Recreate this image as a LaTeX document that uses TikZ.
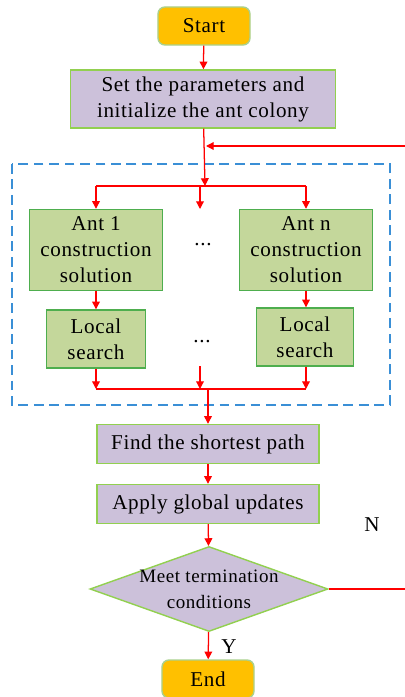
\documentclass[tikz,border=0pt]{standalone}
\usepackage{fontspec}
\setmainfont{Liberation Serif}[LetterSpace=3]
\usetikzlibrary{shapes,arrows.meta,calc}

\definecolor{startorange}{HTML}{FFC000}
\definecolor{lightgreen}{HTML}{A9D18E}
\definecolor{limegreen}{HTML}{92D050}
\definecolor{lavender}{HTML}{CCC1DA}
\definecolor{antgreen}{HTML}{C4D79B}
\definecolor{antborder}{HTML}{4EAE4E}
\definecolor{dashblue}{HTML}{3A8FD6}

\begin{document}
\begin{tikzpicture}[x=0.025cm,y=-0.025cm,
	every node/.style={font=\fontsize{15}{18.5}\selectfont,align=center,inner sep=0pt},
	term/.style={draw=lightgreen,fill=startorange,line width=1pt,rounded corners=5pt,minimum width=2.3cm,minimum height=0.95cm},
	procbox/.style={draw=limegreen,fill=lavender,line width=1pt,minimum height=0.975cm},
	antbox/.style={draw=antborder,fill=antgreen,line width=1pt},
	decide/.style={diamond,draw=limegreen,fill=lavender,line width=1pt,font=\fontsize{13.5}{18.5}\selectfont,inner xsep=-20pt,inner ysep=-10pt,aspect=2.8,minimum width=5.95cm,minimum height=2.125cm},
	flow/.style={red,line width=0.9pt,-{Triangle[length=5.5pt,width=5.5pt]}},
	plain/.style={red,line width=0.9pt}]

	\useasboundingbox (0,0) rectangle (405,697);

	\node [term] (start) at (204,26) {Start};
	\node [procbox,minimum width=6.625cm,minimum height=1.45cm] (init) at (203,99) {Set the parameters and\\initialize the ant colony};

	% ants
	\draw [dashblue,line width=1.2pt,dash pattern=on 7pt off 4pt] (12,164) rectangle (390,405);

	\node [antbox,minimum width=3.325cm,minimum height=2.025cm] (ant1) at (96,250) {Ant 1\\construction\\solution};
	\node [antbox,minimum width=3.325cm,minimum height=2.025cm] (antn) at (306,250) {Ant n\\construction\\solution};
	\node (dotsa) at (203,245) {...};

	\node [antbox,minimum width=2.475cm,minimum height=1.45cm] (local1) at (96,339) {Local\\search};
	\node [antbox,minimum width=2.425cm,minimum height=1.45cm] (localn) at (305,337) {Local\\search};
	\node (dotsb) at (202,342) {...};

	\node [procbox,minimum width=5.55cm] (find) at (208,444) {Find the shortest path};
	\node [procbox,minimum width=5.55cm] (apply) at (208,504) {Apply global updates};
	\node [decide] (meet) at (209,589) {Meet termination\\conditions};
	\node [term] (end) at (208,679) {End};

	\node (no) at (372,525) {N};
	\node (yes) at (229,647) {Y};

	\coordinate (split) at (205,186);
	\coordinate (splitl) at (96,186);
	\coordinate (splitm) at (200,186);
	\coordinate (splitr) at (306,186);
	\coordinate (midtop) at (200,209);
	\coordinate (midlow) at (200,366);
	\coordinate (joinl) at (96,389);
	\coordinate (joinm) at (200,389);
	\coordinate (joinr) at (306,389);
	\coordinate (join) at (208,389);
	\coordinate (loopin) at (206,146);
	\coordinate (loopup) at (412,146);
	\coordinate (loopdn) at (412,589);

	\draw [flow] (start) -- (init);
	\draw [flow] (init) -- (split);
	\draw [plain] (splitl) -- (splitr);
	\draw [flow] (splitl) -- (ant1);
	\draw [flow] (splitm) -- (midtop);
	\draw [flow] (splitr) -- (antn);

	\draw [flow] (ant1) -- (local1);
	\draw [flow] (antn.south) -- (localn.north -| antn.south);

	\draw [flow] (local1) -- (joinl);
	\draw [flow] (midlow) -- (joinm);
	\draw [flow] (localn.south -| joinr) -- (joinr);
	\draw [plain] (joinl) -- (joinr);
	\draw [flow] (join) -- (find);

	\draw [flow] (find) -- (apply);
	\draw [flow] (apply) -- (meet);
	\draw [flow] (meet) -- (end);

	\draw [plain] (meet.east) -- (loopdn) -- (loopup);
	\draw [flow] (loopup) -- (loopin);

\end{tikzpicture}
\end{document}
